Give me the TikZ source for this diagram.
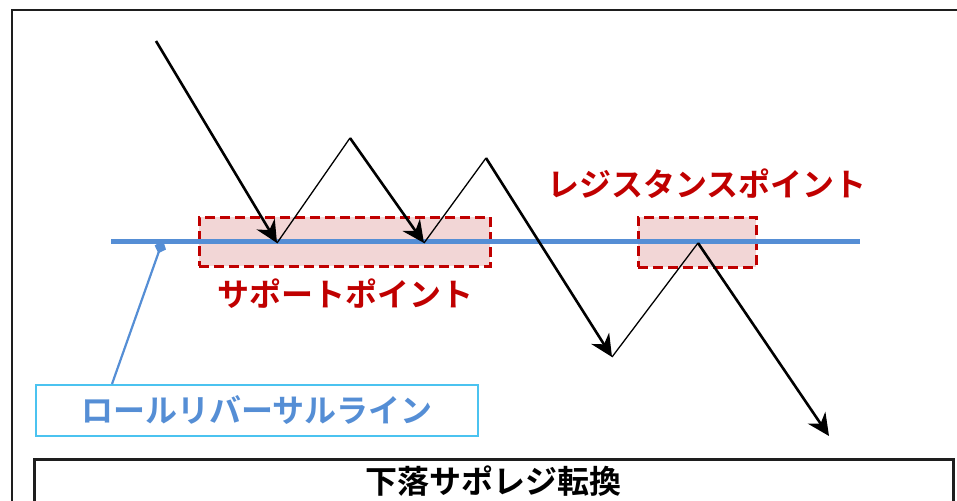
\documentclass[tikz,border=0pt]{standalone}
\usepackage{fontspec}
\newfontfamily\jp{Noto Sans CJK JP Bold}
\usetikzlibrary{arrows.meta}
\definecolor{lineblue}{RGB}{85,142,213}
\definecolor{boxcyan}{RGB}{75,195,240}
\definecolor{darkred}{RGB}{192,0,0}
\definecolor{pinkfill}{RGB}{242,214,214}
\definecolor{framegray}{RGB}{30,30,30}
\tikzset{
  zonebox/.style={draw=darkred, fill=pinkfill, line width=2.6pt, dash pattern=on 10pt off 5pt},
  redlabel/.style={text=darkred, font=\jp\fontsize{32}{34}\selectfont, inner sep=0pt},
  thickleg/.style={line width=2.6pt, -{Stealth[length=22pt,width=21pt,inset=7pt]}},
  thinleg/.style={line width=1.3pt},
}
\begin{document}
\begin{tikzpicture}[x=1pt,y=-1pt]
\useasboundingbox (0,0) rectangle (957,500);
% outer frame
\draw[framegray, line width=2.2pt] (12,505) -- (12,10) -- (965,10);
% zones
\node[zonebox, minimum width=291pt, minimum height=49pt, inner sep=0pt, anchor=north west] (sup) at (198,216) {};
\node[zonebox, minimum width=118pt, minimum height=50pt, inner sep=0pt, anchor=north west] (res) at (637,216) {};
% reversal line
\coordinate (rl0) at (111,241);
\coordinate (rl1) at (860,241);
\draw[lineblue, line width=5pt] (rl0) -- (rl1);
% label box
\node[draw=boxcyan, line width=1.8pt, minimum width=442pt, minimum height=51pt, inner sep=0pt, anchor=north west,
      text=lineblue, font=\jp\fontsize{32}{34}\selectfont] (lab) at (35,384) {ロールリバーサルライン};
\coordinate (pin) at (163,240);
\draw[lineblue, line width=2.2pt, -{Kite[length=14pt,width=12pt,inset=6pt]}] (lab.north west) ++(77,0) coordinate (labtop) -- (pin);
% texts
\node[redlabel] (suptext) at (345,294) {サポートポイント};
\node[redlabel] (restext) at (707,184) {レジスタンスポイント};
% price path
\coordinate (p0) at (156,41);
\coordinate (p1) at (277,243);
\coordinate (p2) at (350,138);
\coordinate (p3) at (424,243);
\coordinate (p4) at (486,158);
\coordinate (p5) at (612,357);
\coordinate (p6) at (698,243);
\coordinate (p7) at (829,436);
\draw[thickleg] (p0) -- (p1);
\draw[thinleg] (p1) -- (p2);
\draw[thickleg] (p2) -- (p3);
\draw[thinleg] (p3) -- (p4);
\draw[thickleg] (p4) -- (p5);
\draw[thinleg] (p5) -- (p6);
\draw[thickleg] (p6) -- (p7);
% bottom title
\node[draw=framegray, line width=2.6pt, minimum width=919pt, minimum height=44pt, inner sep=0pt, anchor=north west,
      font=\jp\fontsize{32}{34}\selectfont] (title) at (33,458) {下落サポレジ転換};
\end{tikzpicture}
\end{document}
